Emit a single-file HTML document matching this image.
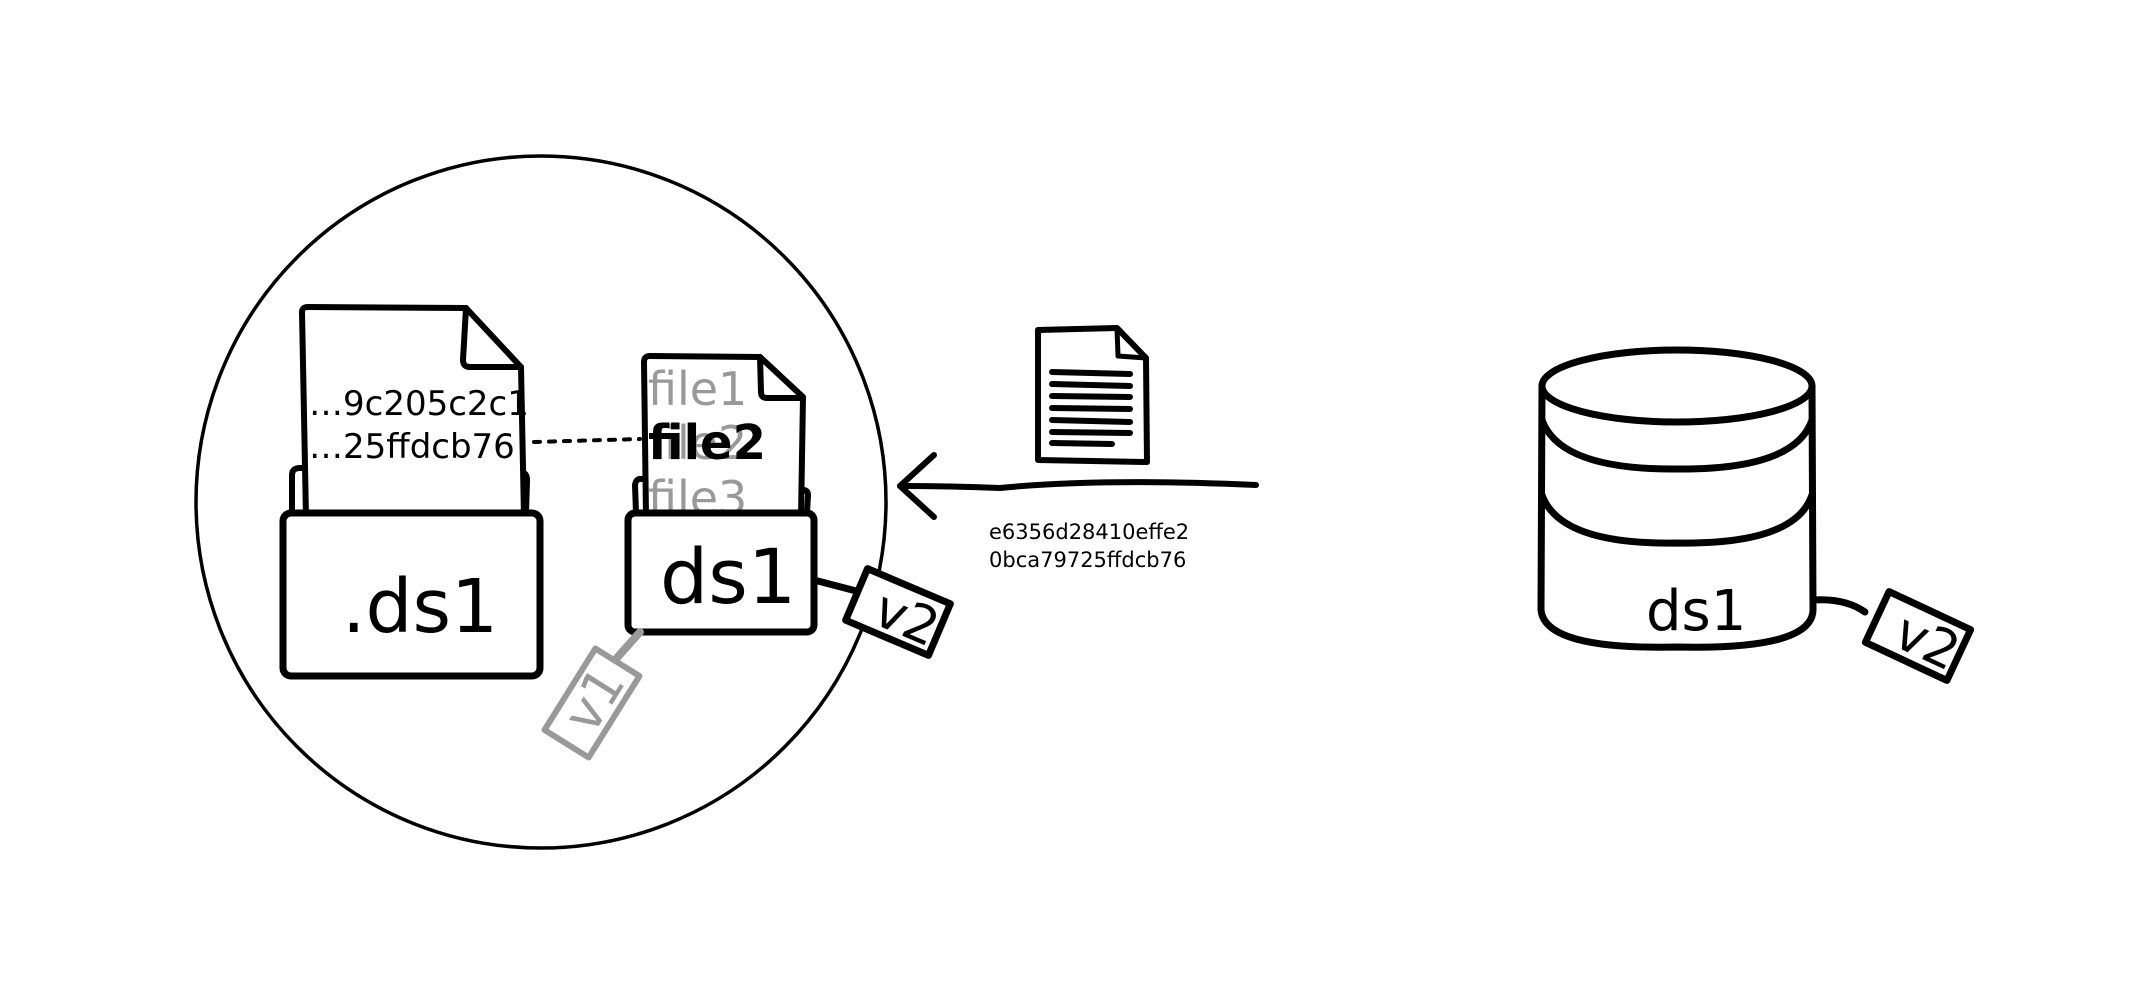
<!DOCTYPE html>
<html><head><meta charset="utf-8"><style>
html,body{margin:0;padding:0;background:#fff;}
svg{display:block;}
text{font-family:"DejaVu Sans","Liberation Sans",sans-serif;}
</style></head><body>
<svg width="2133" height="1000" viewBox="0 0 2133 1000" xmlns="http://www.w3.org/2000/svg">
<g fill="none" stroke="#000" stroke-linecap="round" stroke-linejoin="round">
<ellipse cx="541" cy="502" rx="345" ry="346" stroke-width="3.5"/>
<path d="M292 513 L292 475 Q292 468 300 468 L306 468" stroke-width="6"/>
<path d="M526 513 L527 480 Q527 472 520 472" stroke-width="6"/>
<path d="M306 517 L302 312 Q302 307 308 307 L466 308 L521 367 L524 517" fill="#fff" stroke-width="6"/>
<path d="M466 308 L463 360 Q463 367 470 367 L521 367" stroke-width="6"/>
<rect x="283" y="513" width="257" height="163" rx="8" fill="#fff" stroke-width="7"/>
<path d="M636 513 L635 485 Q636 478 642 479" stroke-width="6"/>
<path d="M807 513 L808 495 Q808 490 803 490" stroke-width="6"/>
<path d="M646 517 L644 362 Q644 356 650 356 L760 357 L803 397 L801 517" fill="#fff" stroke-width="6"/>
<path d="M760 357 L761 392 Q761 398 767 398 L803 398" stroke-width="6"/>
</g>
<g font-size="46" fill="#999">
<text x="648" y="405">file1</text>
<text x="648" y="459">file2</text>
<text x="648" y="514">file3</text>
</g>
<text x="648" y="459" font-size="48" font-weight="bold" fill="#000">file2</text>
<rect x="636" y="516" width="180" height="12" fill="#fff"/>
<g fill="none" stroke="#000" stroke-linecap="round" stroke-linejoin="round">
<rect x="628" y="513" width="186" height="119" rx="7" fill="#fff" stroke-width="7"/>
<path d="M534 442 L640 439" stroke-width="4" stroke-dasharray="6 9"/>
<path d="M814 580 L860 592" stroke-width="7"/>
<g transform="translate(898,612) rotate(23)"><rect x="-45" y="-28" width="90" height="56" fill="#fff" stroke-width="7"/></g>
<path d="M640 632 L615 660" stroke="#999" stroke-width="8"/>
<g transform="translate(592,703) rotate(-58)"><rect x="-48" y="-26" width="96" height="52" fill="#fff" stroke="#999" stroke-width="6"/></g>
<path d="M1256 485 Q1100 478 1000 488 Q950 486 900 486" stroke-width="6"/>
<path d="M934 455 L900 486 L934 517" stroke-width="6"/>
<path d="M1038 330 L1117 328 L1146 358 L1147 462 L1038 460 Z" fill="#fff" stroke-width="6"/>
<path d="M1117 328 L1118 356 L1146 358" stroke-width="5"/>
<g stroke-width="6"><path d="M1052 372 L1130 374"/><path d="M1052 384 L1130 386"/><path d="M1052 396 L1130 397"/><path d="M1052 408 L1130 409"/><path d="M1052 420 L1130 422"/><path d="M1052 432 L1130 433"/><path d="M1052 443 L1112 444"/></g>
<path d="M1542 386 L1541 610 Q1545 650 1677 647 Q1812 650 1813 610 L1812 386" fill="#fff" stroke-width="7"/>
<ellipse cx="1677" cy="386" rx="135" ry="36" fill="#fff" stroke-width="7"/>
<path d="M1542 420 Q1560 470 1677 469 Q1795 470 1812 420" stroke-width="7"/>
<path d="M1542 495 Q1560 545 1677 543 Q1795 545 1812 495" stroke-width="7"/>
<path d="M1813 600 Q1845 598 1865 612" stroke-width="7"/>
<g transform="translate(1918,636) rotate(25)"><rect x="-45" y="-28" width="90" height="56" fill="#fff" stroke-width="7"/></g>
</g>
<g fill="#000">
<text x="309" y="415" font-size="34">…9c205c2c1</text>
<text x="309" y="458" font-size="34">…25ffdcb76</text>
<text x="342" y="632" font-size="74">.ds1</text>
<text x="660" y="603" font-size="76">ds1</text>
<text transform="translate(898,634) rotate(23)" x="-30" font-size="52">v2</text>
<text transform="translate(1918,657) rotate(25)" x="-30" font-size="52">v2</text>
<text x="1646" y="630" font-size="56" font-family="Liberation Sans Narrow, Liberation Sans, sans-serif">ds1</text>
<text x="989" y="539" font-size="21" font-family="Liberation Sans Narrow, Liberation Sans, sans-serif">e6356d28410effe2</text>
<text x="989" y="567" font-size="21" font-family="Liberation Sans Narrow, Liberation Sans, sans-serif">0bca79725ffdcb76</text>
</g>
<text transform="translate(592,703) rotate(-58)" x="-28" y="18" font-size="52" fill="#999">v1</text>
</svg>
</body></html>
